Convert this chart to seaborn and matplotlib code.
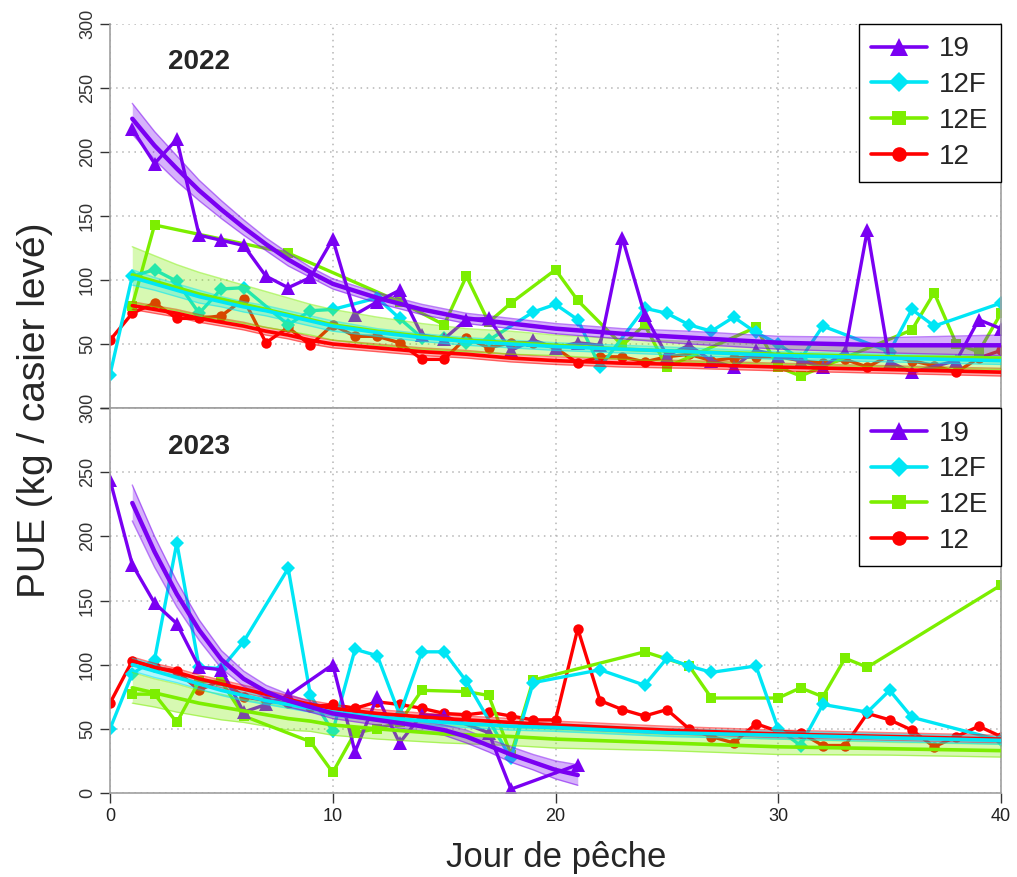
import numpy as np
import pandas as pd
import matplotlib
matplotlib.use("Agg")
import matplotlib.pyplot as plt
import seaborn as sns
from matplotlib.lines import Line2D

# ---------------- data ----------------
zones = ["19", "12F", "12E", "12"]
years = ["2022", "2023"]

# 2022 observed CPUE
x19_22 = [1, 2, 3, 4, 5, 6, 7, 8, 9, 10, 11, 12, 13, 14, 15, 16, 17, 18, 19, 20, 21, 22, 23, 24, 25, 26, 27, 28, 29, 30, 31, 32, 33, 34, 35, 36, 38, 39, 40]
y19_22 = [218, 191, 210, 135, 131, 127, 103, 94, 102, 132, 73, 83, 92, 57, 54, 69, 70, 45, 53, 47, 51, 49, 133, 73, 41, 49, 37, 32, 45, 41, 37, 32, 44, 139, 36, 28, 37, 69, 62]
x12F_22 = [0, 1, 2, 3, 4, 5, 6, 8, 9, 10, 12, 13, 14, 15, 16, 17, 19, 20, 21, 22, 24, 25, 26, 27, 28, 29, 30, 31, 32, 35, 36, 37, 40]
y12F_22 = [26, 103, 108, 99, 74, 93, 94, 65, 76, 77, 86, 70, 55, 55, 51, 53, 75, 81, 69, 32, 78, 74, 65, 60, 71, 59, 50, 38, 64, 44, 77, 64, 82]
x12E_22 = [1, 2, 8, 13, 15, 16, 17, 18, 20, 21, 23, 24, 25, 29, 30, 31, 36, 37, 38, 39, 40]
y12E_22 = [80, 143, 121, 83, 65, 103, 67, 82, 108, 84, 49, 65, 32, 63, 32, 25, 61, 90, 50, 44, 74]
x12_22 = [0, 1, 2, 3, 4, 5, 6, 7, 8, 9, 10, 11, 12, 13, 14, 15, 16, 17, 18, 19, 20, 21, 22, 23, 24, 25, 26, 27, 28, 29, 30, 31, 32, 33, 34, 35, 36, 37, 38, 39, 40]
y12_22 = [53, 74, 82, 70, 70, 72, 85, 51, 63, 49, 65, 56, 56, 51, 38, 38, 55, 47, 51, 51, 47, 35, 40, 40, 36, 40, 42, 37, 39, 40, 40, 37, 35, 38, 32, 41, 37, 33, 28, 39, 45]

# 2023 observed CPUE
x19_23 = [0, 1, 2, 3, 4, 5, 6, 7, 8, 10, 11, 12, 13, 14, 15, 17, 18, 21]
y19_23 = [244, 178, 148, 132, 98, 96, 63, 69, 76, 100, 32, 75, 39, 61, 60, 47, 3, 22]
x12F_23 = [0, 1, 2, 3, 4, 5, 6, 8, 9, 10, 11, 12, 13, 14, 15, 16, 18, 19, 22, 24, 25, 26, 27, 29, 30, 31, 32, 34, 35, 36, 40]
y12F_23 = [50, 93, 104, 195, 98, 97, 118, 175, 76, 48, 112, 107, 61, 110, 110, 87, 27, 86, 96, 84, 105, 99, 94, 99, 50, 37, 69, 63, 80, 59, 41]
x12E_23 = [1, 2, 3, 4, 5, 6, 9, 10, 11, 12, 13, 14, 16, 17, 18, 19, 24, 26, 27, 30, 31, 32, 33, 34, 40]
y12E_23 = [77, 77, 55, 87, 87, 60, 40, 16, 47, 50, 55, 80, 79, 76, 30, 88, 110, 99, 74, 74, 82, 75, 105, 98, 162]
x12_23 = [0, 1, 2, 3, 4, 5, 6, 7, 8, 9, 10, 11, 12, 13, 14, 15, 16, 17, 18, 19, 20, 21, 22, 23, 24, 25, 26, 27, 28, 29, 30, 31, 32, 33, 34, 35, 36, 37, 38, 39, 40]
y12_23 = [70, 103, 98, 95, 80, 88, 75, 72, 70, 67, 69, 66, 71, 69, 66, 62, 61, 63, 60, 57, 57, 128, 72, 65, 60, 65, 50, 44, 39, 54, 48, 47, 37, 37, 62, 57, 49, 36, 44, 52, 44]

# fitted curves (centre + half-width of band), read at selected days
fd22 = [1, 2, 3, 4, 5, 6, 7, 8, 9, 10, 12, 14, 16, 18, 20, 23, 26, 30, 35, 40]
fit19_22 = [226, 205, 187, 170, 155, 141, 128, 116, 106, 97, 86, 77, 70, 66, 62, 58, 55, 51, 49, 49]
hw19_22 = [12, 11, 10, 8, 7, 6, 5, 5, 4, 4, 4, 4, 4, 4, 4, 4, 5, 5, 6, 8]
fit12F_22 = [102, 97, 92, 87, 83, 79, 76, 72, 68, 64, 59, 55, 52, 50, 48, 46, 44, 41, 39, 37]
hw12F_22 = [6, 5, 5, 5, 4, 4, 4, 4, 4, 4, 3, 3, 3, 3, 3, 3, 3, 3, 3, 3]
fit12E_22 = [104, 99, 94, 89, 85, 81, 77, 73, 69, 65, 60, 56, 53, 51, 49, 46, 44, 42, 40, 39]
hw12E_22 = [22, 20, 18, 17, 16, 15, 14, 13, 12, 12, 11, 10, 9, 9, 8, 8, 8, 8, 8, 9]
fit12_22 = [80, 77, 74, 70, 67, 64, 60, 57, 53, 50, 47, 44, 42, 39, 37, 35, 34, 32, 30, 28]
hw12_22 = [3, 3, 3, 3, 3, 3, 3, 3, 3, 3, 3, 3, 3, 3, 3, 3, 3, 3, 3, 3]

fd19_23 = [1, 2, 3, 4, 5, 6, 7, 8, 9, 10, 12, 14, 15, 16, 17, 18, 19, 20, 21]
fit19_23 = [226, 188, 155, 127, 104, 89, 79, 72, 67, 62, 57, 52, 49, 44, 37, 30, 24, 18, 14]
hw19_23 = [14, 12, 10, 8, 7, 6, 5, 5, 4, 4, 4, 4, 4, 5, 5, 6, 6, 7, 8]
fd23 = [1, 2, 3, 4, 5, 6, 7, 8, 9, 10, 12, 15, 18, 20, 25, 30, 35, 40]
fit12F_23 = [100, 95, 90, 85, 80, 76, 72, 69, 66, 63, 59, 55, 52, 51, 47, 45, 43, 41]
hw12F_23 = [5, 5, 4, 4, 4, 4, 3, 3, 3, 3, 3, 3, 3, 3, 3, 3, 3, 3]
fit12E_23 = [82, 78, 74, 70, 67, 64, 61, 58, 56, 53, 50, 46, 44, 42, 39, 36, 34.5, 33]
hw12E_23 = [12, 11, 11, 10, 10, 9, 9, 9, 8, 8, 8, 7, 7, 7, 6, 6, 5, 5]
fit12_23 = [103, 98, 94, 89, 85, 81, 77, 73, 69, 66, 62, 58, 55, 53, 49, 46, 44, 42]
hw12_23 = [3, 3, 3, 3, 3, 3, 3, 3, 3, 3, 3, 3, 3, 3, 3, 3, 3, 3]

yticks = [0, 50, 100, 150, 200, 250, 300]
xticks = [0, 10, 20, 30, 40]

obs = {
    "2022": {"19": (x19_22, y19_22), "12F": (x12F_22, y12F_22), "12E": (x12E_22, y12E_22), "12": (x12_22, y12_22)},
    "2023": {"19": (x19_23, y19_23), "12F": (x12F_23, y12F_23), "12E": (x12E_23, y12E_23), "12": (x12_23, y12_23)},
}
fits = {
    "2022": {"19": (fd22, fit19_22, hw19_22), "12F": (fd22, fit12F_22, hw12F_22),
             "12E": (fd22, fit12E_22, hw12E_22), "12": (fd22, fit12_22, hw12_22)},
    "2023": {"19": (fd19_23, fit19_23, hw19_23), "12F": (fd23, fit12F_23, hw12F_23),
             "12E": (fd23, fit12E_23, hw12E_23), "12": (fd23, fit12_23, hw12_23)},
}

# ---------------- style ----------------
colors = {"19": "#7a00f2", "12F": "#00e6f5", "12E": "#7cee00", "12": "#ff0000"}
markers = {"19": "^", "12F": "D", "12E": "s", "12": "o"}
msizes = {"19": 10, "12F": 7.5, "12E": 7.5, "12": 7.5}

sns.set_style("white")
plt.rcParams["font.family"] = ["Liberation Sans", "DejaVu Sans"]

fig = plt.figure(figsize=(10.17, 8.77), dpi=100)
L, R = 110 / 1017, 1001 / 1017
ax_top = fig.add_axes([L, 1 - 408 / 877, R - L, (408 - 24) / 877])
ax_bot = fig.add_axes([L, 1 - 793 / 877, R - L, (793 - 408) / 877])

draw_order = ["12", "12E", "12F", "19"]
for ax, yr in zip([ax_top, ax_bot], years):
    ax.set_xlim(0, 40)
    ax.set_ylim(0, 300)
    ax.set_xticks(xticks)
    ax.set_yticks(yticks)
    ax.grid(True, linestyle=(0, (1, 3)), color="#b5b5b5", linewidth=1.1)
    ax.set_axisbelow(True)
    for s in ["left", "right", "bottom", "top"]:
        ax.spines[s].set_color("#a0a0a0")
        ax.spines[s].set_linewidth(1.2)
    ax.spines["top"].set_visible(yr == "2023")

    # observed series
    for z in draw_order:
        xs, ys = obs[yr][z]
        df = pd.DataFrame({"jour": xs, "pue": ys})
        sns.lineplot(data=df, x="jour", y="pue", ax=ax, color=colors[z], lw=2.4,
                     marker=markers[z], markersize=msizes[z], markeredgewidth=0,
                     estimator=None, legend=False)
    # fitted curves with bands
    for z in draw_order:
        fx, fy, hw = fits[yr][z]
        fy = np.array(fy, float)
        hw = np.array(hw, float)
        ax.fill_between(fx, fy - hw, fy + hw, color=colors[z], alpha=0.3, lw=0, zorder=3)
        ax.plot(fx, fy - hw, color=colors[z], alpha=0.5, lw=1, zorder=3)
        ax.plot(fx, fy + hw, color=colors[z], alpha=0.5, lw=1, zorder=3)
        dff = pd.DataFrame({"jour": fx, "fit": fy})
        sns.lineplot(data=dff, x="jour", y="fit", ax=ax, color=colors[z],
                     lw=3.2 if z == "19" else 2.6, estimator=None, legend=False, zorder=4)

    ax.set_xlabel("")
    ax.set_ylabel("")
    ax.tick_params(axis="y", direction="out", length=7, width=1, color="#333333",
                   labelsize=13, labelcolor="#333333", pad=3, left=True)
    for lab in ax.get_yticklabels():
        lab.set_rotation(90)
        lab.set_va("center")
    ax.text(4, 270, yr, fontsize=20, fontweight="bold", ha="center", va="center")

    handles = [Line2D([], [], color=colors[z], lw=2.6, marker=markers[z],
                      markersize=msizes[z] + 3, markeredgewidth=0) for z in zones]
    leg = ax.legend(handles, zones, loc="upper right", bbox_to_anchor=(1.0, 1.0),
                    borderaxespad=0, fontsize=20, frameon=True, fancybox=False,
                    framealpha=1, edgecolor="black", handlelength=2.0,
                    labelspacing=0.35, borderpad=0.45, handletextpad=0.45)
    leg.get_frame().set_linewidth(1.0)
    leg.set_zorder(10)

ax_top.tick_params(axis="x", bottom=False, labelbottom=False)
ax_top.set_yticklabels(["", "50", "100", "150", "200", "250", "300"])
ax_bot.tick_params(axis="x", direction="out", length=7, width=1, color="#333333",
                   labelsize=13, labelcolor="#222222", bottom=True)

fig.text(0.034, 1 - 410 / 877, "PUE (kg / casier levé)", rotation=90,
         ha="center", va="center", fontsize=28)
fig.text(556 / 1017, 1 - 857 / 877, "Jour de pêche", ha="center", va="center", fontsize=25)

fig.savefig("out.png", dpi=100)
